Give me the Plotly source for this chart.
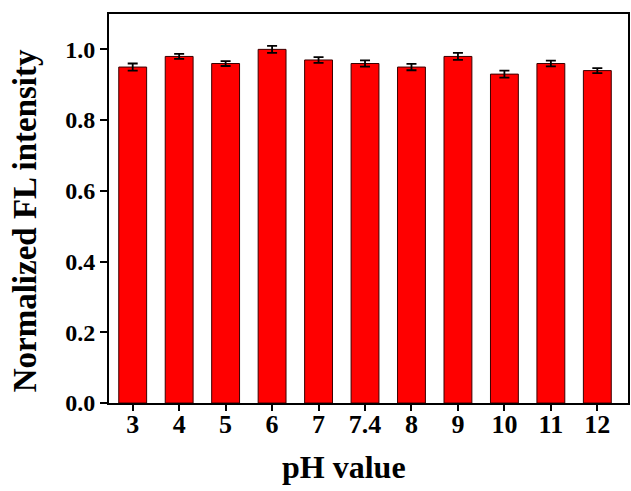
import plotly.graph_objects as go

categories = ["3", "4", "5", "6", "7", "7.4", "8", "9", "10", "11", "12"]
values = [0.95, 0.98, 0.96, 1.00, 0.97, 0.96, 0.95, 0.98, 0.93, 0.96, 0.94]
errors = [0.010, 0.007, 0.007, 0.010, 0.008, 0.009, 0.009, 0.010, 0.010, 0.008, 0.007]
y_ticks = [0.0, 0.2, 0.4, 0.6, 0.8, 1.0]

W, H = 631, 491
L, R, T, B = 109, 1, 14, 88
pw, ph = W - L - R, H - T - B

FONT = "Liberation Serif, Times New Roman, serif"
idx = list(range(len(categories)))

fig = go.Figure()
fig.add_trace(go.Bar(
    x=idx, y=values, width=0.6,
    marker=dict(color="#FF0000", line=dict(color="#3a0000", width=1)),
    error_y=dict(type="data", array=errors, visible=True,
                 color="black", thickness=1.8, width=5),
))

fig.update_layout(
    width=W, height=H,
    margin=dict(l=L, r=R, t=T, b=B),
    paper_bgcolor="white", plot_bgcolor="white",
    showlegend=False,
    xaxis=dict(
        range=[-0.51, 10.66],
        tickmode="array", tickvals=idx, ticktext=categories,
        ticks="", ticklen=0,
        minor=dict(tickmode="array", tickvals=idx, ticks="outside",
                   ticklen=6, tickwidth=1.5, tickcolor="black", showgrid=False),
        showline=True, linewidth=2, linecolor="black", mirror=True,
        showgrid=False, zeroline=False,
        ticklabelstandoff=-3,
        tickfont=dict(family=FONT, size=26, color="black", weight="bold"),
    ),
    yaxis=dict(
        range=[0, 1.1],
        tickmode="array", tickvals=y_ticks, tickformat=".1f",
        ticks="outside", ticklen=7, tickwidth=1.5, tickcolor="black",
        showline=True, linewidth=2, linecolor="black", mirror=True,
        showgrid=False, zeroline=False,
        tickfont=dict(family=FONT, size=24, color="black", weight="bold"),
    ),
)

fig.add_annotation(
    text="<b>pH value</b>", showarrow=False,
    xref="paper", yref="paper",
    x=(345 - L) / pw, y=(H - B - 467) / ph,
    xanchor="center", yanchor="middle",
    font=dict(family=FONT, size=32, color="black"),
)
fig.add_annotation(
    text="<b>Normalized FL intensity</b>", showarrow=False, textangle=-90,
    xref="paper", yref="paper",
    x=(25 - L) / pw, y=(H - B - 221) / ph,
    xanchor="center", yanchor="middle",
    font=dict(family=FONT, size=33, color="black"),
)

fig.write_html("out.html")
